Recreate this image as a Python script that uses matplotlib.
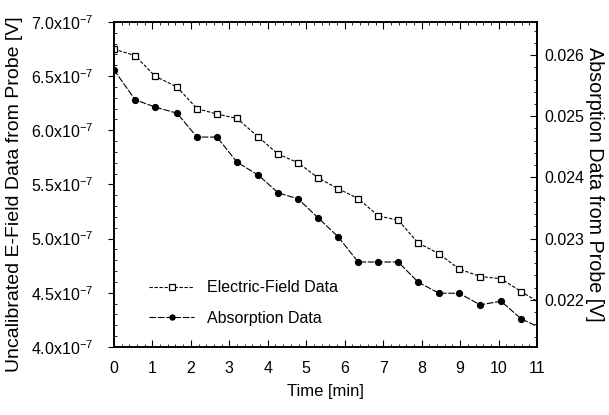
import numpy as np
import matplotlib
matplotlib.use("Agg")
import matplotlib.pyplot as plt
from matplotlib.ticker import MultipleLocator, FuncFormatter

plt.rcParams['font.family'] = ['Liberation Sans', 'DejaVu Sans']
plt.rcParams['mathtext.fontset'] = 'custom'
plt.rcParams['mathtext.rm'] = 'Liberation Sans'

# 時間 [min]
time = [0.0, 0.55, 1.07, 1.64, 2.16, 2.68, 3.20, 3.75, 4.27, 4.79, 5.31,
        5.83, 6.35, 6.87, 7.39, 7.91, 8.45, 8.97, 9.52, 10.06, 10.59, 11.1]
# 電界データ [x1e-7 V]
efield = [6.75, 6.69, 6.50, 6.40, 6.20, 6.15, 6.11, 5.94, 5.78, 5.70, 5.56,
          5.46, 5.37, 5.21, 5.17, 4.96, 4.86, 4.72, 4.65, 4.63, 4.51, 4.40]
# 吸収データ [V]
absorp = [0.02576, 0.02527, 0.02515, 0.02505, 0.02466, 0.02466, 0.02425,
          0.02404, 0.02375, 0.02365, 0.02334, 0.02303, 0.02262, 0.02262,
          0.02262, 0.02229, 0.02211, 0.02211, 0.02192, 0.02198, 0.02169,
          0.02154]

fig = plt.figure(figsize=(6.09, 4.15), dpi=100)
ax1 = fig.add_axes([0.187, 0.164, 0.695, 0.783])
ax2 = ax1.twinx()

e = np.array(efield) * 1e-7
l1, = ax1.plot(time, e, color='k', lw=0.8, marker='s', ms=4.5,
               mfc='white', mec='k', mew=0.9, dashes=(3, 1.5))
l2, = ax2.plot(time, absorp, color='k', lw=0.8, marker='o', ms=4.2,
               mfc='k', mec='k', dashes=(6, 1.5))

ax1.set_xlim(0, 11)
ax1.set_ylim(4.0e-7, 7.0e-7)
ax2.set_ylim(0.021233, 0.026539)

ax1.xaxis.set_major_locator(MultipleLocator(1))
ax1.xaxis.set_minor_locator(MultipleLocator(0.2))
ax1.yaxis.set_major_locator(MultipleLocator(0.5e-7))
ax1.yaxis.set_minor_locator(MultipleLocator(0.1e-7))
ax1.yaxis.set_major_formatter(FuncFormatter(lambda v, p: '%.1fx10$^{-7}$' % (v * 1e7)))
ax2.yaxis.set_major_locator(MultipleLocator(0.001))
ax2.yaxis.set_minor_locator(MultipleLocator(0.0002))
ax2.yaxis.set_major_formatter(FuncFormatter(lambda v, p: '%.3f' % v))

ax1.tick_params(axis='x', which='both', direction='in', top=True, labelsize=11.5)
ax1.tick_params(axis='x', which='major', length=5, pad=10)
ax1.tick_params(axis='x', which='minor', length=2.5)
ax1.tick_params(axis='y', which='major', direction='out', length=4, labelsize=11.5, pad=11)
ax1.tick_params(axis='y', which='minor', direction='in', length=2.5)
ax2.tick_params(axis='y', which='major', direction='in', length=5, labelsize=11.5, pad=5)
ax2.tick_params(axis='y', which='minor', direction='in', length=2.5)

for ax in (ax1, ax2):
    for s in ax.spines.values():
        s.set_linewidth(1.2)

ax1.set_xlabel('Time [min]', fontsize=12, labelpad=6)
ax1.set_ylabel('Uncalibrated E-Field Data from Probe [V]', fontsize=14)
ax1.yaxis.set_label_coords(-0.215, 0.47)
ax2.set_ylabel('Absorption Data from Probe [V]', fontsize=14.2, rotation=-90, labelpad=14)

ax1.legend([l1, l2], ['Electric-Field Data', 'Absorption Data'],
           loc='lower left', bbox_to_anchor=(0.05, 0.02), frameon=False,
           fontsize=11.5, handlelength=2.8, labelspacing=1.0, markerscale=0.85)

plt.savefig('out.png', dpi=100)
